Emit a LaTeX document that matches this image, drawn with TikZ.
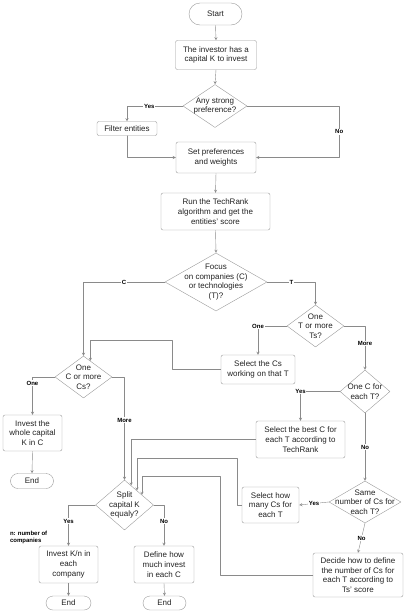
\documentclass[tikz,border=0pt]{standalone}
\usepackage{fontspec}
\setmainfont{Liberation Sans}
\usetikzlibrary{shapes.geometric,shapes.misc}
\definecolor{linegray}{HTML}{8A8A8A}
\definecolor{boxgray}{HTML}{9A9A9A}
\definecolor{txtgray}{HTML}{222222}

\begin{document}
\begin{tikzpicture}[x=1pt,y=-1pt,font=\fontsize{8}{9.7}\selectfont,text=txtgray, line join=round, line cap=round, >=stealth,
	box/.style={rectangle,draw=boxgray,rounded corners=2pt,align=center,inner sep=1pt},
	choice/.style={diamond,draw=boxgray,inner sep=0pt},
	term/.style={rounded rectangle,draw=boxgray,inner sep=0pt},
	arr/.style={-stealth,linegray},
	lab/.style={font=\fontsize{6}{7}\selectfont\bfseries,text=black,fill=white,inner sep=0.8pt}]
	\useasboundingbox(0,0)rectangle(415,614);
	% top part
	\path(215.5,14)node[term,minimum width=53pt,minimum height=22pt](start){Start}
	(216,55)node[box,minimum width=81pt,minimum height=29pt](invest){The investor has a\\capital K to invest}
	(215,106)node[choice,minimum width=64pt,minimum height=43pt,label={[align=center]center:{Any strong\\preference?}}](pref){}
	(127,128.5)node[box,minimum width=60pt,minimum height=14pt](filter){Filter entities}
	(216,157.5)node[box,minimum width=80pt,minimum height=31pt](setp){Set preferences\\and weights}
	(215.5,211.5)node[box,minimum width=109pt,minimum height=37pt](run){Run the TechRank\\algorithm and get the\\entities' score}
	(216,282)node[choice,minimum width=102pt,minimum height=58pt,label={[align=center]center:{Focus\\on companies (C)\\or technologies\\(T)?}}](focus){}
	;
	% companies / technologies
	\path(315.5,326)node[choice,minimum width=57pt,minimum height=42pt,label={[align=center]center:{One\\T or more\\Ts?}}](onet){}
	(258,369.5)node[box,minimum width=74pt,minimum height=29pt](selcs){Select the Cs\\working on that T}
	(83.5,377)node[choice,minimum width=57pt,minimum height=42pt,label={[align=center]center:{One\\C or more\\Cs?}}](onec){}
	(32.5,433)node[box,minimum width=59pt,minimum height=36pt](whole){Invest the\\whole capital\\K in C}
	(32,481)node[term,minimum width=43pt,minimum height=15pt](end1){End}
	(365,391.5)node[choice,minimum width=50pt,minimum height=43pt,label={[align=center]center:{One C for\\each T?}}](onect){}
	(300.5,439.5)node[box,minimum width=89pt,minimum height=37pt](best){Select the best C for\\each T according to\\TechRank}
	(365,502)node[choice,minimum width=72pt,minimum height=42pt,label={[align=center]center:{Same\\number of Cs for\\each T?}}](same){}
	(270.5,505)node[box,minimum width=57pt,minimum height=36pt](howmany){Select how\\many Cs for\\each T}
	(358,575)node[box,minimum width=90pt,minimum height=44pt](decide){Decide how to define\\the number of Cs for\\each T according to\\Ts' score}
	;
	% split
	\path(124.5,505)node[choice,minimum width=58pt,minimum height=50pt,label={[align=center]center:{Split\\capital K\\equaly?}}](split){}
	(68.5,564.5)node[box,minimum width=59pt,minimum height=37pt](kn){Invest K/n in\\each\\company}
	(164,564.5)node[box,minimum width=60pt,minimum height=37pt](define){Define how\\much invest\\in each C}
	(68.5,603)node[term,minimum width=45pt,minimum height=14pt](end2){End}
	(164.5,603)node[term,minimum width=43pt,minimum height=14pt](end3){End}
	(9,537)node[lab,anchor=west,align=left,fill=none](ncomp){n: number of\\companies}
	;
	\draw[arr](start.south)--(invest.north);
	\draw[arr](invest.south)--(pref.north);
	\draw[arr](pref.west)-|(filter.north) node[lab,pos=0.3]{Yes};
	\draw[arr](pref.east)--++(92,0)|-(setp.east) node[lab,pos=0.25]{No};
	\draw[arr](filter.south)|-(setp.west);
	\draw[arr](setp.south)--(run.north);
	\draw[arr](run.south)--(focus.north);
	\draw[arr](focus.west)-|(onec.north) node[lab,pos=0.25]{C};
	\draw[arr](focus.east)-|(onet.north) node[lab,pos=0.25]{T};
	\draw[arr](onet.west)-|(selcs.north) node[lab,pos=0.5]{One};
	\draw[arr](onet.east)-|(onect.north) node[lab,pos=0.7]{More};
	\draw[arr](selcs.west)--++(-49,0)--++(0,-29.5)-|(onec.67);
	\draw[arr](onec.west)-|(whole.north) node[lab,pos=0.58]{One};
	\draw[arr](onec.east)-|(split.north) node[lab,pos=0.71]{More};
	\draw[arr](onect.west)-|(best.north) node[lab,pos=0.5]{Yes};
	\draw[arr](onect.south)--(same.north) node[lab,pos=0.5]{No};
	\draw[arr](best.west)-|(split.71);
	\draw[arr](howmany.west)--++(-4.5,0)--++(0,-47)-|(split.49);
	\draw[arr](decide.west)--++(-93,0)--++(0,-99)-|(split.30);
	\draw[arr](same.west)--(howmany.east) node[lab,pos=0.5]{Yes};
	\draw[arr](same.south)--(decide.north) node[lab,pos=0.5]{No};
	\draw[arr](split.west)-|(kn.north) node[lab,pos=0.7]{Yes};
	\draw[arr](split.east)-|(define.north) node[lab,pos=0.7]{No};
	\draw[arr](whole.south)--(end1.north);
	\draw[arr](kn.south)--(end2.north);
	\draw[arr](define.south)--(end3.north);
\end{tikzpicture}
\end{document}
